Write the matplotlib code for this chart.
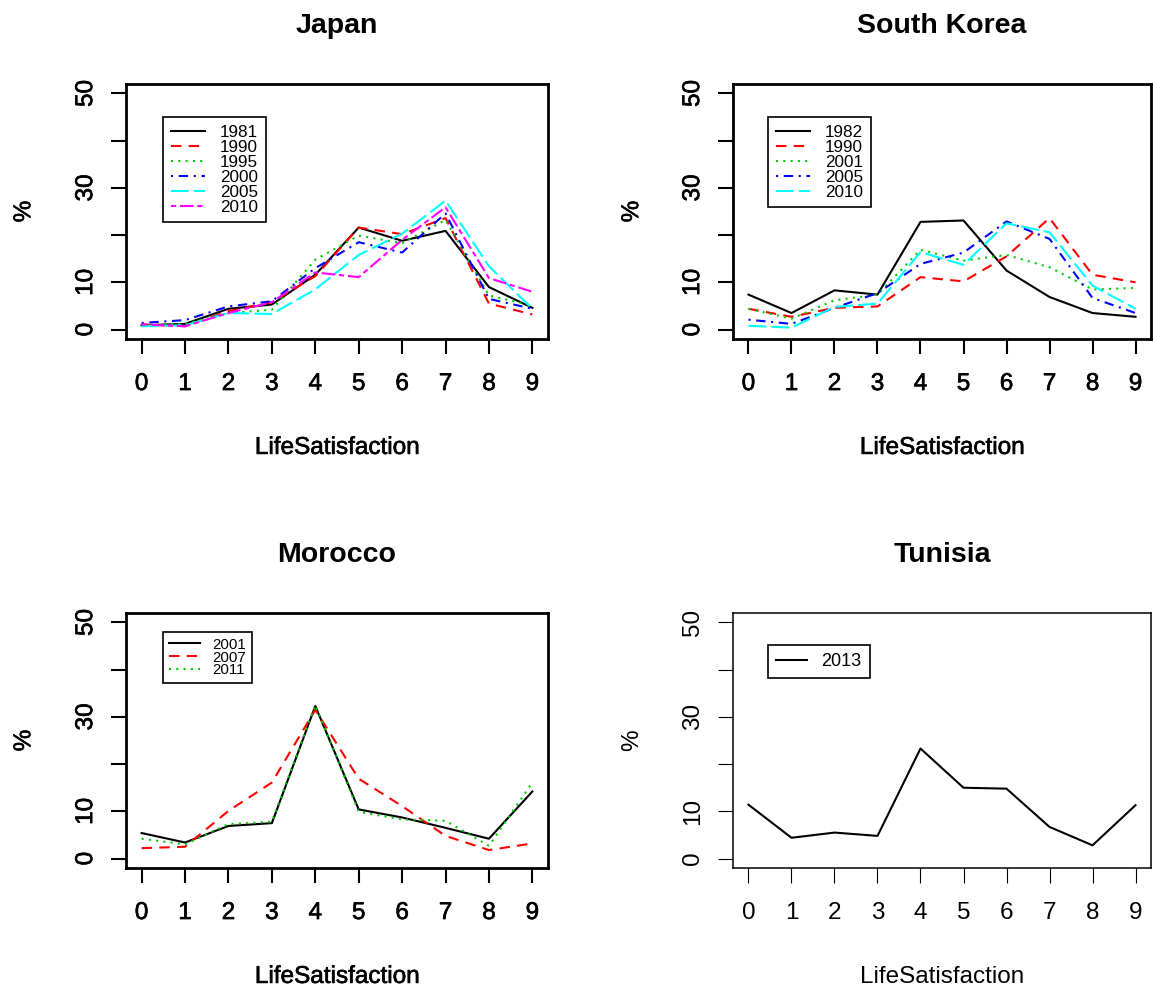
import matplotlib
matplotlib.use('Agg')
import matplotlib.pyplot as plt
import matplotlib.patheffects as pe

plt.rcParams['font.family'] = ['Liberation Sans', 'DejaVu Sans']

# ---------------- data ----------------
levels = [0, 1, 2, 3, 4, 5, 6, 7, 8, 9]
y_ticks = [0, 10, 20, 30, 40, 50]
y_ticklabels = ['0', '10', '', '30', '', '50']
x_label = 'LifeSatisfaction'
y_label = '%'

japan_years = ['1981', '1990', '1995', '2000', '2005', '2010']
japan_1981 = [0.9, 1.2, 4.4, 5.3, 11.6, 21.6, 18.8, 20.9, 9.0, 4.6]
japan_1990 = [1.1, 0.7, 3.9, 5.8, 11.3, 21.6, 20.2, 23.6, 5.5, 3.2]
japan_1995 = [0.9, 1.2, 3.5, 4.2, 14.8, 19.9, 18.3, 23.2, 7.2, 5.1]
japan_2000 = [1.4, 2.0, 4.9, 6.0, 13.0, 18.5, 16.3, 24.6, 6.5, 4.4]
japan_2005 = [0.7, 0.9, 3.5, 3.3, 8.5, 15.8, 20.3, 27.3, 13.4, 4.4]
japan_2010 = [1.1, 0.7, 3.5, 5.8, 12.1, 11.1, 19.0, 25.9, 10.9, 8.0]

korea_years = ['1982', '1990', '2001', '2005', '2010']
korea_1982 = [7.4, 3.5, 8.3, 7.4, 22.8, 23.1, 12.5, 6.9, 3.5, 2.7]
korea_1990 = [4.4, 2.7, 4.6, 4.9, 11.1, 10.2, 15.5, 23.6, 11.6, 10.0]
korea_2001 = [4.4, 2.3, 6.2, 7.4, 16.9, 14.6, 15.8, 13.2, 8.5, 8.8]
korea_2005 = [2.1, 1.2, 4.6, 7.7, 13.9, 16.3, 22.9, 19.2, 6.7, 3.5]
korea_2010 = [0.8, 0.4, 4.8, 5.5, 16.4, 13.7, 22.5, 20.6, 9.3, 4.4]

morocco_years = ['2001', '2007', '2011']
morocco_2001 = [5.4, 3.4, 6.9, 7.5, 32.3, 10.4, 8.7, 6.5, 4.2, 14.2]
morocco_2007 = [2.2, 2.5, 10.1, 16.1, 31.5, 16.9, 11.1, 4.8, 1.8, 3.2]
morocco_2011 = [4.2, 3.0, 7.3, 7.8, 32.5, 9.9, 8.3, 8.0, 2.7, 16.1]

tunisia_years = ['2013']
tunisia_2013 = [11.4, 4.4, 5.5, 4.8, 23.3, 15.0, 14.8, 6.7, 2.8, 11.3]

# ---------------- styles ----------------
colors = ['black', 'red', '#00CD00', 'blue', 'cyan', 'magenta']
dashes = ['-', (0, (5, 3.5)), (0, (1, 2.5)), (0, (1, 2.7, 4.5, 2.7)),
          (0, (8.5, 2.5)), (0, (2.5, 1.8, 6.5, 1.8))]

W, H = 1153, 988
fig = plt.figure(figsize=(W / 100, H / 100), dpi=100)

panels = [
    dict(title='Japan', years=japan_years,
         series=[japan_1981, japan_1990, japan_1995, japan_2000, japan_2005, japan_2010],
         rect=(126, 84, 548, 339), heavy=True,
         leg=dict(anchor=(163, 117), fs=12.3, hl=2.0, htp=0.9, bp=0.45, ls=0.0)),
    dict(title='South Korea', years=korea_years,
         series=[korea_1982, korea_1990, korea_2001, korea_2005, korea_2010],
         rect=(733, 84, 1151, 339), heavy=True,
         leg=dict(anchor=(768, 117), fs=12.3, hl=2.0, htp=0.9, bp=0.45, ls=0.0)),
    dict(title='Morocco', years=morocco_years,
         series=[morocco_2001, morocco_2007, morocco_2011],
         rect=(126, 613, 548, 868), heavy=True,
         leg=dict(anchor=(163, 632), fs=10.8, hl=2.1, htp=0.8, bp=0.38, ls=-0.08)),
    dict(title='Tunisia', years=tunisia_years,
         series=[tunisia_2013],
         rect=(733, 613, 1151, 868), heavy=False,
         leg=dict(anchor=(768, 645), fs=13.0, hl=1.7, htp=0.8, bp=0.45, ls=0.0)),
]

for p in panels:
    l, t, r, b = p['rect']
    ax = fig.add_axes([l / W, 1 - b / H, (r - l) / W, (b - t) / H])
    heavy = p['heavy']
    lw_line = 1.5
    for i, (yr, vals) in enumerate(zip(p['years'], p['series'])):
        ax.plot(levels, vals, color=colors[i], linestyle=dashes[i], linewidth=lw_line,
                label=yr)
    ax.set_xlim(-0.36, 9.36)
    ax.set_ylim(-2, 52)
    ax.set_xticks(levels)
    ax.set_xticklabels([str(v) for v in levels])
    ax.set_yticks(y_ticks)
    ax.set_yticklabels(y_ticklabels, rotation=90, va='center')
    for s in ax.spines.values():
        s.set_linewidth(2.0 if heavy else 1.1)
    ax.tick_params(axis='both', length=10.8, width=1.5 if heavy else 0.8,
                   labelsize=17.5, color='black')
    ax.tick_params(axis='x', pad=13.7)
    ax.tick_params(axis='y', pad=10)
    ax.set_xlabel(x_label, fontsize=17.5)
    ax.xaxis.set_label_coords(0.5, -0.384)
    ax.set_ylabel(y_label, fontsize=17.5)
    ax.yaxis.set_label_coords(-0.215, 0.5)
    ax.set_title(p['title'], fontsize=20.5, fontweight='bold', pad=36.7)

    if heavy:
        eff = [pe.withStroke(linewidth=0.45, foreground='black')]
        for txt in ax.get_xticklabels() + ax.get_yticklabels():
            txt.set_path_effects(eff)
        ax.xaxis.label.set_path_effects(eff)
        ax.yaxis.label.set_path_effects(eff)

    lg = p['leg']
    ax_w, ax_h = r - l, b - t
    bx = (lg['anchor'][0] - l) / ax_w
    by = 1 - (lg['anchor'][1] - t) / ax_h
    leg = ax.legend(loc='upper left', bbox_to_anchor=(bx, by), borderaxespad=0,
                    fontsize=lg['fs'], handlelength=lg['hl'], handletextpad=lg['htp'],
                    borderpad=lg['bp'], labelspacing=lg['ls'], fancybox=False,
                    framealpha=1, edgecolor='black')
    leg.get_frame().set_linewidth(1.2)

fig.savefig('out.png', dpi=100)
